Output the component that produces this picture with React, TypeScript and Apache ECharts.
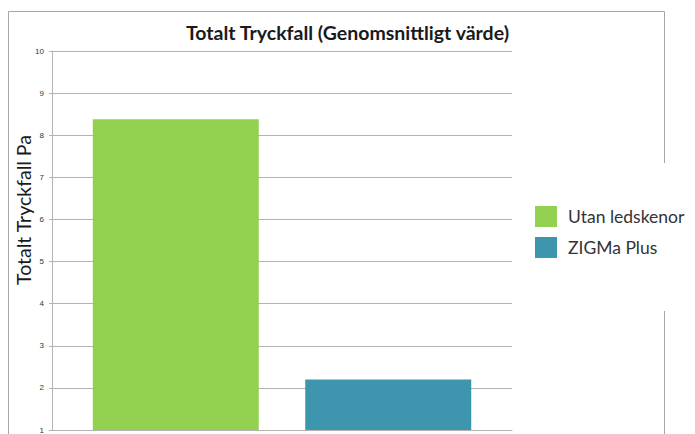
import React, { useEffect, useRef } from "react";
import * as echarts from "echarts";

const categories = [""];
const seriesNames = ["Utan ledskenor", "ZIGMa Plus"];
const seriesValues = [[8.38], [2.2]];
const seriesColors = ["#92d050", "#3e95ae"];
const yMin = 1;
const yMax = 10;
const titleText = "Totalt Tryckfall (Genomsnittligt värde)";
const yAxisTitle = "Totalt Tryckfall Pa";

export default function App() {
  const ref = useRef<HTMLDivElement>(null);
  useEffect(() => {
    if (!ref.current) return;
    const chart = echarts.init(ref.current, null, { renderer: "svg" });
    const borderColor = "#a6a6a6";
    chart.setOption({
      animation: false,
      backgroundColor: "#ffffff",
      title: {
        text: titleText,
        left: "center",
        top: 17,
        textStyle: { fontFamily: "Lato", fontWeight: "bold", fontSize: 19.5, color: "#1a1a1a" },
      },
      grid: { left: 52, right: 183, top: 51, bottom: 3, containLabel: false },
      legend: {
        orient: "vertical",
        left: 535,
        top: 206,
        itemWidth: 22,
        itemHeight: 21,
        itemGap: 10,
        padding: 0,
        icon: "rect",
        data: seriesNames,
        textStyle: { fontFamily: "Lato", fontSize: 17.5, color: "#333333", padding: [0, 0, 0, 6] },
      },
      xAxis: {
        type: "category",
        data: categories,
        axisLine: { show: true, lineStyle: { color: "#b3b3b3" } },
        axisTick: { show: false },
        axisLabel: { show: false },
      },
      yAxis: {
        type: "value",
        min: yMin,
        max: yMax,
        interval: 1,
        axisLine: { show: true, lineStyle: { color: "#b3b3b3" } },
        axisTick: { show: true, length: 3, lineStyle: { color: "#b3b3b3" } },
        axisLabel: { fontFamily: "Liberation Sans", fontSize: 8, color: "#333333", margin: 8 },
        splitLine: { show: true, lineStyle: { color: "#b3b3b3" } },
      },
      series: seriesNames.map((name, i) => ({
        name,
        type: "bar",
        data: seriesValues[i],
        barWidth: 166,
        barGap: "28%",
        itemStyle: { color: seriesColors[i] },
      })),
      graphic: [
        {
          type: "polyline",
          shape: { points: [[8.5, 434], [8.5, 11.5], [664.5, 11.5], [664.5, 163]] },
          style: { stroke: borderColor, lineWidth: 1, fill: null },
          silent: true,
        },
        {
          type: "line",
          shape: { x1: 664.5, y1: 311, x2: 664.5, y2: 434 },
          style: { stroke: borderColor, lineWidth: 1 },
          silent: true,
        },
        {
          type: "text",
          x: 23,
          y: 210,
          rotation: Math.PI / 2,
          style: {
            text: yAxisTitle,
            fontFamily: "Lato",
            fontSize: 19.5,
            fill: "#1a1a1a",
            textAlign: "center",
            textVerticalAlign: "middle",
          },
          silent: true,
        },
      ],
    });
    return () => chart.dispose();
  }, []);
  return <div ref={ref} style={{ width: 695, height: 434, position: "absolute", left: 0, top: 0 }} />;
}
